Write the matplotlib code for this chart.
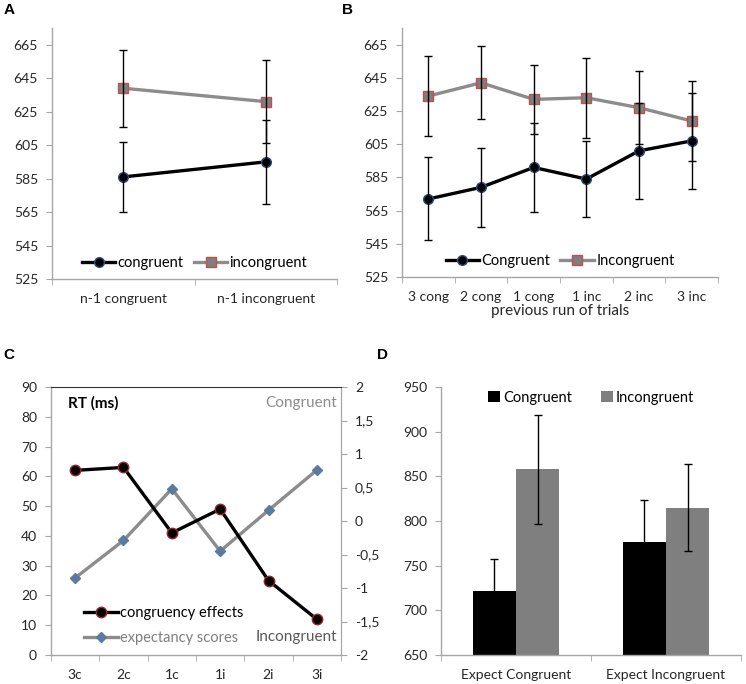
import matplotlib
matplotlib.use("Agg")
import matplotlib.pyplot as plt
from matplotlib.ticker import FixedLocator

plt.rcParams['font.family'] = ['Lato', 'DejaVu Sans']
plt.rcParams['font.size'] = 10

# ---- data ----
a_cats = ["n-1 congruent", "n-1 incongruent"]
a_cong = [586, 595]
a_cong_err = [21, 25]
a_inc = [639, 631]
a_inc_err = [23, 25]

b_cats = ["3 cong", "2 cong", "1 cong", "1 inc", "2 inc", "3 inc"]
b_cong = [572, 579, 591, 584, 601, 607]
b_cong_err = [25, 24, 27, 23, 29, 29]
b_inc = [634, 642, 632, 633, 627, 619]
b_inc_err = [24, 22, 21, 24, 22, 24]

c_cats = ["3c", "2c", "1c", "1i", "2i", "3i"]
c_effects = [62, 63, 41, 49, 25, 12]
c_expect = [-0.85, -0.29, 0.48, -0.45, 0.16, 0.76]
c_right_ticks = [-2, -1.5, -1, -0.5, 0, 0.5, 1, 1.5, 2]
c_right_labels = ["-2", "-1,5", "-1", "-0,5", "0", "0,5", "1", "1,5", "2"]

d_cats = ["Expect Congruent", "Expect Incongruent"]
d_cong = [722, 776]
d_cong_err = [36, 47]
d_inc = [858, 815]
d_inc_err = [61, 49]

W, H = 746, 684
fig = plt.figure(figsize=(W / 100, H / 100), dpi=100)


def box(l, t, r, b):
    return [l / W, 1 - b / H, (r - l) / W, (b - t) / H]


AX_GRAY = "#a6a6a6"
TXT = "#262626"
LGRAY = "#8c8c8c"
ERR = dict(ecolor="black", elinewidth=1, capsize=3, capthick=1)


def excel_style(ax, n):
    for s in ["top", "right"]:
        ax.spines[s].set_visible(False)
    for s in ["left", "bottom"]:
        ax.spines[s].set_color(AX_GRAY)
        ax.spines[s].set_linewidth(1)
    ax.set_xlim(-0.5, n - 0.5)
    ax.set_xticks(range(n))
    ax.xaxis.set_minor_locator(FixedLocator([i - 0.5 for i in range(n + 1)]))
    ax.tick_params(axis="x", which="major", length=0, pad=10, labelsize=10, colors=TXT)
    ax.tick_params(axis="x", which="minor", length=4, color=AX_GRAY, direction="out")
    ax.tick_params(axis="y", length=4, color=AX_GRAY, direction="out", pad=6,
                   labelsize=10, labelcolor=TXT)


def line_panel(ax, cats, cong, cong_err, inc, inc_err, names):
    n = len(cats)
    x = list(range(n))
    ax.errorbar(x, cong, yerr=cong_err, fmt="none", zorder=4, **ERR)
    ax.errorbar(x, inc, yerr=inc_err, fmt="none", zorder=4, **ERR)
    ax.plot(x, cong, color="black", lw=2.4, marker="o", ms=7, mfc="black",
            mec="#2f4f7f", mew=1, label=names[0], zorder=3)
    ax.plot(x, inc, color=LGRAY, lw=2.4, marker="s", ms=7, mfc="#7f7f7f",
            mec="#c0504d", mew=1, label=names[1], zorder=3)
    excel_style(ax, n)
    ax.set_xticklabels(cats)
    ax.set_ylim(525, 675)
    ax.set_yticks(range(525, 666, 20))
    ax.legend(loc="lower center", bbox_to_anchor=(0.5, -0.015), ncol=2, frameon=False,
              handlelength=2.3, handletextpad=0.15, columnspacing=0.7, fontsize=10.5)


# ---- A ----
axA = fig.add_axes(box(52, 28, 337, 279))
line_panel(axA, a_cats, a_cong, a_cong_err, a_inc, a_inc_err, ["congruent", "incongruent"])

# ---- B ----
axB = fig.add_axes(box(402, 28, 718, 277))
line_panel(axB, b_cats, b_cong, b_cong_err, b_inc, b_inc_err, ["Congruent", "Incongruent"])
axB.set_xlabel("previous run of trials", fontsize=11, color=TXT, labelpad=1)

# ---- C ----
axC = fig.add_axes(box(51, 387, 341, 655))
xc = list(range(len(c_cats)))
lc1, = axC.plot(xc, c_effects, color="black", lw=2.4, marker="o", ms=7.5, mfc="black",
                mec="#a0202a", mew=1, zorder=4, label="congruency effects")
excel_style(axC, len(c_cats))
axC.spines["top"].set_visible(True)
axC.spines["top"].set_color("#333333")
axC.spines["right"].set_visible(True)
axC.spines["right"].set_color(AX_GRAY)
axC.set_xticklabels(c_cats)
axC.set_ylim(0, 90)
axC.set_yticks(range(0, 91, 10))
axC.text(0.06, 0.965, "RT (ms)", transform=axC.transAxes, fontsize=11, fontweight="bold",
         color="black", va="top", ha="left")
axC.text(0.985, 0.965, "Congruent", transform=axC.transAxes, fontsize=11,
         color="#8c8c8c", va="top", ha="right")
axC.text(0.985, 0.095, "Incongruent", transform=axC.transAxes, fontsize=11,
         color="#595959", va="top", ha="right")

axC2 = axC.twinx()
lc2, = axC2.plot(xc, c_expect, color=LGRAY, lw=2.4, marker="D", ms=5, mfc="#5b7aa0",
                 mec="#5b7aa0", zorder=3, label="expectancy scores")
axC2.set_ylim(-2, 2)
axC2.set_yticks(c_right_ticks)
axC2.set_yticklabels(c_right_labels)
for s in ["top", "left", "bottom"]:
    axC2.spines[s].set_visible(False)
axC2.spines["right"].set_color(AX_GRAY)
axC2.tick_params(axis="y", length=4, color=AX_GRAY, direction="out", pad=6,
                 labelsize=10, labelcolor=TXT)
axC.set_zorder(axC2.get_zorder() + 1)
axC.patch.set_visible(False)
leg = axC.legend([lc1, lc2], ["congruency effects", "expectancy scores"], loc="lower left",
                 bbox_to_anchor=(0.07, -0.012), frameon=False, handlelength=2.3,
                 handletextpad=0.15, labelspacing=0.75, fontsize=10.5)
leg.get_texts()[1].set_color("#7f7f7f")

# ---- D ----
axD = fig.add_axes(box(441, 387, 741, 655))
xd = list(range(len(d_cats)))
bw = 0.287
axD.bar([v - bw / 2 for v in xd], d_cong, width=bw, color="black", label="Congruent",
        yerr=d_cong_err, error_kw=ERR)
axD.bar([v + bw / 2 for v in xd], d_inc, width=bw, color="#7f7f7f", label="Incongruent",
        yerr=d_inc_err, error_kw=ERR)
excel_style(axD, len(d_cats))
axD.set_xticklabels(d_cats)
axD.set_ylim(650, 950)
axD.set_yticks(range(650, 951, 50))
axD.legend(loc="upper center", bbox_to_anchor=(0.5, 1.035), ncol=2, frameon=False,
           handlelength=0.8, handleheight=0.8, handletextpad=0.2, columnspacing=2.0,
           fontsize=10.5)

# panel letters
for lbl, (px, py) in zip("ABCD", [(4, 10), (342, 10), (3, 355), (377, 355)]):
    fig.text(px / W, 1 - py / H, lbl, fontsize=11, fontweight="bold",
             family="Liberation Sans", va="center", ha="left")

fig.savefig("out.png", dpi=100)
